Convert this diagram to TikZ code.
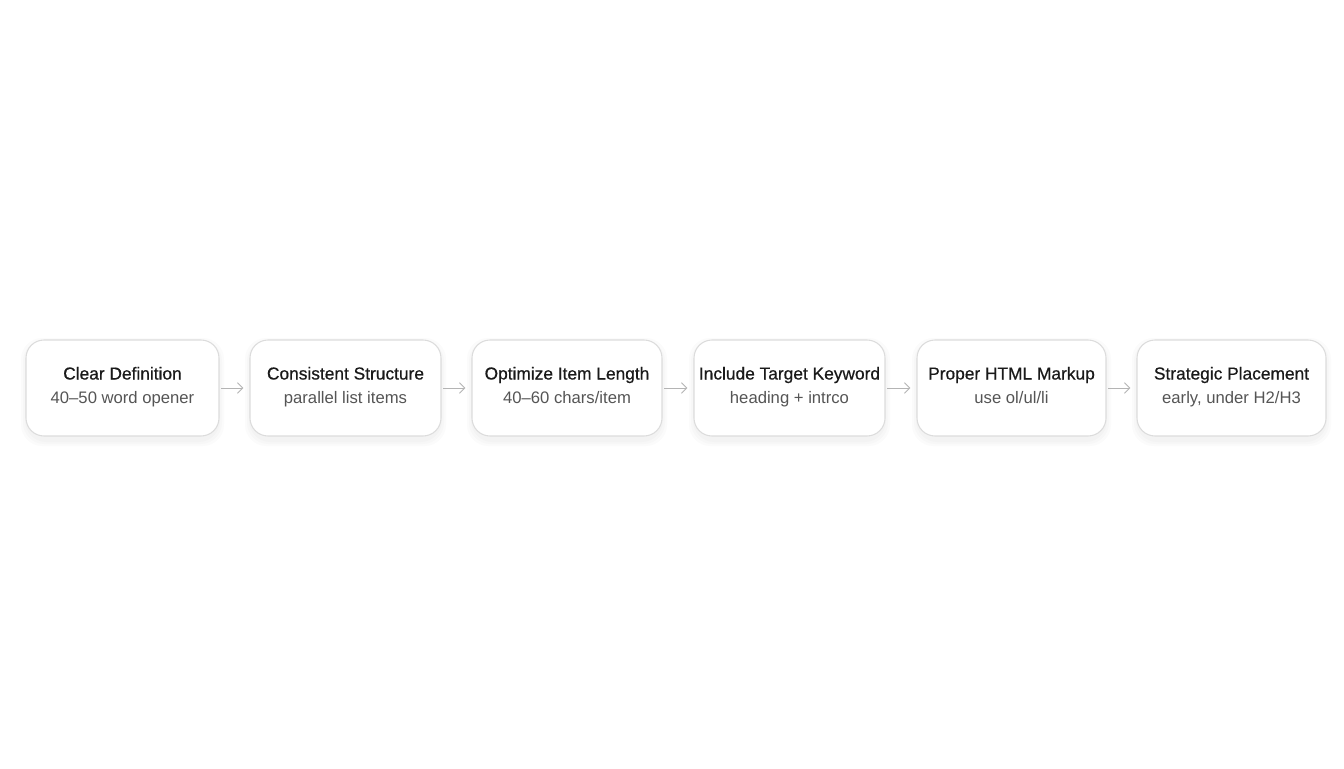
\documentclass[tikz,border=0pt]{standalone}
\usepackage{fontspec}
\setmainfont{Liberation Sans}
\newfontfamily\titlefont[FakeBold=0.6]{Liberation Sans}
\usetikzlibrary{arrows.meta}
\definecolor{bordc}{HTML}{DCDCDC}
\definecolor{titc}{HTML}{1A1A1A}
\definecolor{subc}{HTML}{555555}
\definecolor{arrc}{HTML}{B4B4B4}
\begin{document}
\begin{tikzpicture}[x=0.75pt,y=-0.75pt,
  card/.style={draw=bordc, line width=0.8pt, fill=white, rounded corners=13.5pt},
  ttl/.style={anchor=base, inner sep=0pt, font=\titlefont\fontsize{13pt}{16pt}\selectfont, text=titc},
  sub/.style={anchor=base, inner sep=0pt, font=\fontsize{12.5pt}{16pt}\selectfont, text=subc},
  conn/.style={draw=arrc, line width=0.7pt, -{Straight Barb[length=4pt,width=8pt]}}]
\useasboundingbox (0,0) rectangle (1344,768);
\fill[white] (0,0) rectangle (1344,768);
\foreach \i/\xa/\xb in {1/26/219,2/250/441,3/472/662,4/694/885,5/917/1106,6/1137/1326}{
  \foreach \k/\o in {1/6,2/4,3/2}{
    \fill[black, opacity=0.016, rounded corners=16pt] (\xa-\o+1,340-\o+4) rectangle (\xb+\o-1,436+\o+4);
  }
  \path[card] (\xa,340) rectangle (\xb,436);
  \coordinate (L\i) at (\xa,388);
  \coordinate (R\i) at (\xb,388);
}
\node[ttl] (t1) at (122.5,379.5) {Clear Definition};
\node[sub] (s1) at (122.5,403) {40–50 word opener};
\node[ttl] (t2) at (345.5,379.5) {Consistent Structure};
\node[sub] (s2) at (345.5,403) {parallel list items};
\node[ttl] (t3) at (567,379.5) {Optimize Item Length};
\node[sub] (s3) at (567,403) {40–60 chars/item};
\node[ttl] (t4) at (789.5,379.5) {Include Target Keyword};
\node[sub] (s4) at (789.5,403) {heading + intrco};
\node[ttl] (t5) at (1011.5,379.5) {Proper HTML Markup};
\node[sub] (s5) at (1011.5,403) {use ol/ul/li};
\node[ttl] (t6) at (1231.5,379.5) {Strategic Placement};
\node[sub] (s6) at (1231.5,403) {early, under H2/H3};
\foreach \a/\b in {1/2,2/3,3/4,4/5,5/6}{
  \draw[conn] ([xshift=1.5]R\a) -- ([xshift=-5]L\b);
}
\end{tikzpicture}
\end{document}
